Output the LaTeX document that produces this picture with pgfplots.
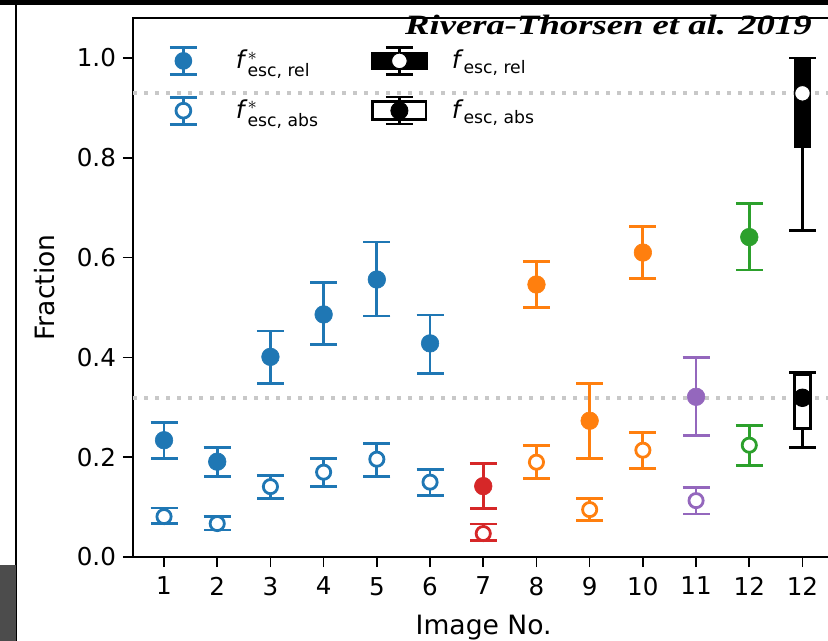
\documentclass[border=0pt]{standalone}
\usepackage{pgfplots}
\pgfplotsset{compat=1.18}
\usepackage{amsmath}
\usepackage{fontspec}
\setmainfont{DejaVu Sans}
\newfontfamily\titlefont{Liberation Serif}

\definecolor{c0}{HTML}{1F77B4}
\definecolor{c1}{HTML}{FF7F0E}
\definecolor{c2}{HTML}{2CA02C}
\definecolor{c3}{HTML}{D62728}
\definecolor{c4}{HTML}{9467BD}
\definecolor{dotgray}{HTML}{C8C8C8}

\pgfplotsset{
  relp/.style={forget plot, only marks, color=#1, mark=*, mark size=4.4pt,
    mark options={fill=#1, draw=#1, line width=0.3pt},
    error bars/.cd, y dir=both, y explicit,
    error bar style={line width=1.4pt, draw=#1},
    error mark options={rotate=90, mark size=6.75pt, line width=1.4pt, draw=#1}},
  absp/.style={forget plot, only marks, color=#1, mark=*, mark size=3.55pt,
    mark options={fill=white, draw=#1, line width=1.4pt},
    error bars/.cd, y dir=both, y explicit,
    error bar style={line width=1.4pt, draw=#1},
    error mark options={rotate=90, mark size=6.75pt, line width=1.4pt, draw=#1}},
  whisk/.style={forget plot, draw=none, no markers,
    error bars/.cd, y dir=both, y explicit,
    error bar style={line width=#1, draw=black},
    error mark options={rotate=90, mark size=6.6pt, line width=1.4pt, draw=black}},
  ebleg/.style 2 args={legend image code/.code={
    \path (0pt,0pt) (28pt,0pt);
    \draw[#1, line width=1.4pt] (14pt,-6.75pt) -- (14pt,6.75pt)
      (7.25pt,6.75pt) -- (20.75pt,6.75pt) (7.25pt,-6.75pt) -- (20.75pt,-6.75pt);
    \filldraw[draw=#1, fill=#2, line width=1.4pt] (14pt,0pt) circle (3.7pt);
  }},
}

\begin{document}
\begin{tikzpicture}
\useasboundingbox (-66.5pt,-42pt) rectangle (347.5pt,278.5pt);
\clip (-66.5pt,-42pt) rectangle (347.5pt,278.5pt);
\fill[white] (-66.5pt,-42pt) rectangle (347.5pt,278.5pt);
\begin{axis}[
  scale only axis, width=350.7pt, height=269.5pt,
  xmin=0.417, xmax=13.6, ymin=0, ymax=1.08,
  xtick={1,2,3,4,5,6,7,8,9,10,11,12,13},
  xticklabels={1,2,3,4,5,6,7,8,9,10,11,12,12},
  ytick={0,0.2,0.4,0.6,0.8,1.0},
  tick pos=left, tick align=outside, major tick length=5pt,
  tick style={black, line width=0.8pt},
  axis line style={black, line width=0.8pt},
  ticklabel style={font=\fontsize{12.3}{14}\selectfont},
  xticklabel style={yshift=-1.5pt},
  /pgf/number format/assume math mode=true,
  yticklabel style={/pgf/number format/.cd, fixed, fixed zerofill, precision=1},
  xlabel={Image No.}, ylabel={Fraction},
  every axis x label/.style={at={(axis description cs:0.5,-0.1429)}, anchor=base,
    font=\fontsize{13.3}{15}\selectfont},
  every axis y label/.style={at={(axis description cs:-0.1255,0.5)}, anchor=center, rotate=90,
    font=\fontsize{13.3}{15}\selectfont},
  legend columns=2,
  legend cell align=left,
  legend style={draw=none, fill=none, inner sep=0pt, outer sep=0pt,
    at={(axis description cs:0,1)}, anchor=north west, xshift=11pt, yshift=-14pt,
    row sep=10pt, font=\fontsize{12.3}{14}\selectfont,
    /tikz/every odd column/.append style={column sep=10pt},
    /tikz/every even column/.append style={column sep=24pt}},
]
% reference levels
\addplot[forget plot, dotgray, line width=2pt, dash pattern=on 2pt off 3.5pt]
  coordinates {(0.417,0.93) (13.6,0.93)};
\addplot[forget plot, dotgray, line width=2pt, dash pattern=on 2pt off 3.5pt]
  coordinates {(0.417,0.319) (13.6,0.319)};

% legend handles
\addlegendimage{ebleg={c0}{c0}}
\addlegendentry{\textit{f}$^{*}_{\text{esc, rel}}$}
\addlegendimage{legend image code/.code={
  \fill[black] (0pt,-4.25pt) rectangle (28pt,4.25pt);
  \draw[black, line width=1.3pt] (14pt,-6.75pt) -- (14pt,6.75pt)
    (7.25pt,6.75pt) -- (20.75pt,6.75pt) (7.25pt,-6.75pt) -- (20.75pt,-6.75pt);
  \filldraw[draw=black, fill=white, line width=0.5pt] (14pt,0pt) circle (3.9pt);
}}
\addlegendentry{\textit{f}$_{\text{esc, rel}}$}
\addlegendimage{ebleg={c0}{white}}
\addlegendentry{\textit{f}$^{*}_{\text{esc, abs}}$}
\addlegendimage{legend image code/.code={
  \draw[black, line width=1.3pt] (14pt,-6.75pt) -- (14pt,-4.5pt) (14pt,4.5pt) -- (14pt,6.75pt)
    (7.25pt,6.75pt) -- (20.75pt,6.75pt) (7.25pt,-6.75pt) -- (20.75pt,-6.75pt);
  \draw[black, fill=white, line width=1.3pt] (0.65pt,-4.5pt) rectangle (27.35pt,4.5pt);
  \fill[black] (14pt,0pt) circle (4.3pt);
}}
\addlegendentry{\textit{f}$_{\text{esc, abs}}$}

% images 1-6
\addplot[relp=c0] coordinates {
  (1,0.234) += (0,0.036) -= (0,0.036)
  (2,0.191) += (0,0.028) -= (0,0.029)
  (3,0.401) += (0,0.052) -= (0,0.054)
  (4,0.486) += (0,0.064) -= (0,0.061)
  (5,0.556) += (0,0.075) -= (0,0.073)
  (6,0.428) += (0,0.057) -= (0,0.060)
};
\addplot[absp=c0] coordinates {
  (1,0.081) += (0,0.017) -= (0,0.014)
  (2,0.067) += (0,0.014) -= (0,0.013)
  (3,0.141) += (0,0.023) -= (0,0.024)
  (4,0.170) += (0,0.028) -= (0,0.028)
  (5,0.196) += (0,0.032) -= (0,0.034)
  (6,0.150) += (0,0.026) -= (0,0.027)
};
% image 7
\addplot[relp=c3] coordinates {(7,0.142) += (0,0.045) -= (0,0.045)};
\addplot[absp=c3] coordinates {(7,0.047) += (0,0.019) -= (0,0.014)};
% images 8-10
\addplot[relp=c1] coordinates {
  (8,0.546) += (0,0.046) -= (0,0.046)
  (9,0.273) += (0,0.074) -= (0,0.075)
  (10,0.610) += (0,0.052) -= (0,0.052)
};
\addplot[absp=c1] coordinates {
  (8,0.190) += (0,0.034) -= (0,0.032)
  (9,0.095) += (0,0.022) -= (0,0.022)
  (10,0.214) += (0,0.035) -= (0,0.036)
};
% image 11
\addplot[relp=c4] coordinates {(11,0.321) += (0,0.078) -= (0,0.077)};
\addplot[absp=c4] coordinates {(11,0.113) += (0,0.027) -= (0,0.027)};
% image 12
\addplot[relp=c2] coordinates {(12,0.641) += (0,0.068) -= (0,0.066)};
\addplot[absp=c2] coordinates {(12,0.224) += (0,0.039) -= (0,0.040)};

% combined image 12 (drawn at position 13): whiskers, boxes, points
\addplot[whisk=1.1pt] coordinates {(13,0.827) += (0,0.173) -= (0,0.173)};
\addplot[forget plot, draw=black, fill=black, line width=0.6pt]
  coordinates {(12.86,0.821) (13.14,0.821) (13.14,1.0) (12.86,1.0)} -- cycle;
\addplot[whisk=1.3pt] coordinates {(13,0.295) += (0,0.075) -= (0,0.075)};
\addplot[forget plot, draw=black, fill=white, line width=1.3pt]
  coordinates {(12.855,0.257) (13.145,0.257) (13.145,0.365) (12.855,0.365)} -- cycle;
\addplot[forget plot, only marks, mark=*, mark size=3.9pt,
  mark options={fill=white, draw=black, line width=0.5pt}] coordinates {(13,0.929)};
\addplot[forget plot, only marks, mark=*, mark size=4.4pt,
  mark options={fill=black, draw=black}] coordinates {(13,0.319)};
\end{axis}
\fill[black] (-66.5pt,276pt) rectangle (347.5pt,278.5pt);
\draw[black, line width=0.8pt] (-58.5pt,-42pt) -- (-58.5pt,276pt);
\fill[black!70] (-66.5pt,-42pt) rectangle (-58.5pt,-4pt);
\node[anchor=base east, inner sep=0pt]
  at (339.5pt,261pt) {\scalebox{1.31}[1]{\titlefont\bfseries\itshape\fontsize{14}{17}\selectfont Rivera-Thorsen et al. 2019}};
\end{tikzpicture}
\end{document}
